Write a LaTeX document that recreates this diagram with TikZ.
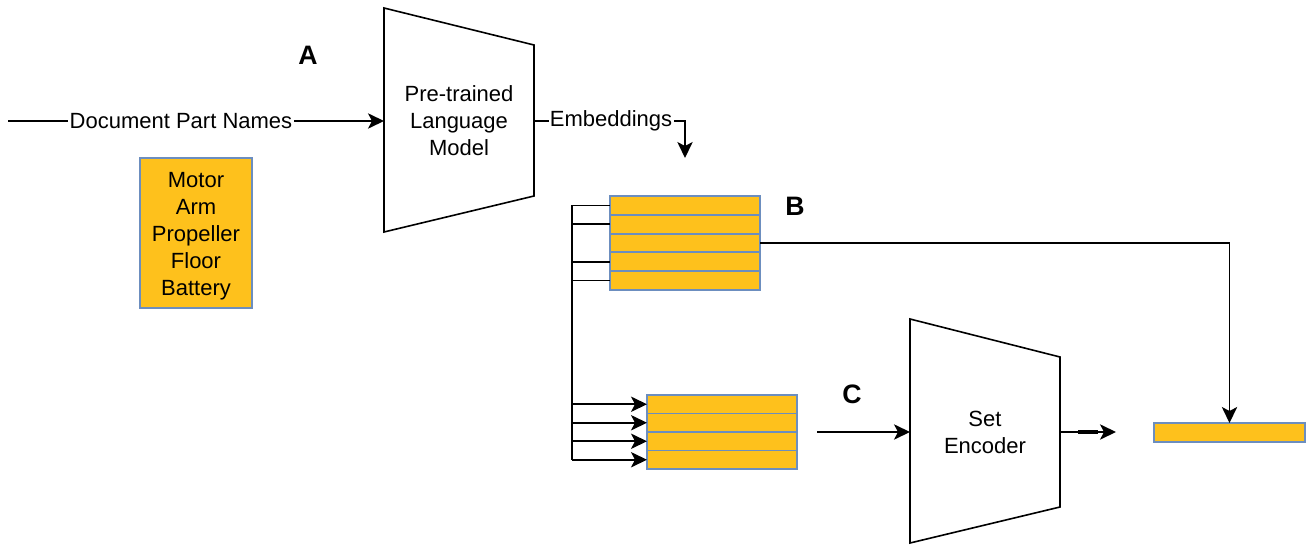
\documentclass[tikz,border=0pt]{standalone}
\usepackage{fontspec}
\setmainfont{Liberation Sans}
\usetikzlibrary{arrows.meta}
\definecolor{rowfill}{RGB}{254,193,28}
\definecolor{rowedge}{RGB}{108,142,191}
\begin{document}
\begin{tikzpicture}[x=0.75pt,y=-0.75pt,
  line/.style={line width=1.2pt, draw=black},
  arr/.style={line, -{Stealth[length=12pt,width=11.5pt,inset=3pt]}},
  row/.style={draw=rowedge, fill=rowfill, line width=1.4pt, minimum width=112.5pt, inner sep=0pt, outer sep=0pt},
  lbl/.style={font=\fontsize{16.5}{20.25}\selectfont, align=center},
  big/.style={font=\fontsize{20}{24}\selectfont\bfseries}]
\useasboundingbox (0,0) rectangle (1307,546);

% Pre-trained language model
\draw[line] (384,8) -- (534,45) -- (534,196) -- (384,232) -- cycle;
\coordinate (plmin) at (384,121);
\coordinate (plmout) at (534,121);
\node[lbl] (plm) at (459,121) {Pre-trained\\Language\\Model};

% input
\coordinate (src) at (8,121);
\draw[arr] (src) -- node[pos=0.46, lbl, fill=white, inner sep=1pt] (dpn) {Document Part Names} (plmin);

% example box
\node[draw=rowedge, fill=rowfill, line width=1.4pt, minimum width=84pt, minimum height=112.5pt] (parts) at (196,233) {};
\node[lbl] (partstxt) at (196,236) {Motor\\Arm\\Propeller\\Floor\\Battery};

% embeddings
\coordinate (embend) at (685,158);
\draw[arr] (plmout) -| node[pos=0.255, lbl, fill=white, inner sep=1pt] (emb) {Embeddings} (embend);

% B stack
\foreach \i/\y in {1/205.4,2/224.2,3/243,4/261.8,5/280.6}
  \node[row, minimum height=14.1pt] (b\i) at (685,\y) {};
% C stack
\foreach \i/\y in {1/404.25,2/422.75,3/441.25,4/459.75}
  \node[row, minimum height=13.9pt] (c\i) at (722,\y) {};

% bus
\coordinate (bustop) at (572,205.4);
\coordinate (busbot) at (572,459.75);
\draw[line] (bustop) -- (busbot);
\foreach \i in {1,2,4,5}
  \draw[line] (b\i.west) -- (b\i.west -| bustop);
\foreach \i in {1,2,3,4}
  \draw[arr] (c\i.west -| bustop) -- (c\i.west);

% final bar
\node[row, minimum width=113.25pt, minimum height=14.25pt] (fin) at (1229.5,432.5) {};
\draw[arr] (b3.east) -| (fin.north);

% Set encoder
\draw[line] (910,319) -- (1060,357) -- (1060,507) -- (910,543) -- cycle;
\coordinate (setin) at (910,432);
\coordinate (setout) at (1060,432);
\node[lbl] (set) at (985,432) {Set\\Encoder};
\coordinate (cstart) at (817,432);
\draw[arr] (cstart) -- (setin);
\coordinate (outend) at (1116,432);
\draw[arr] (setout) -- (outend);
\draw[line width=2.3pt] (1078,432) -- (1098,432);

% labels
\node[big] (la) at (308,55) {A};
\node[big] (lb) at (795,206) {B};
\node[big] (lc) at (852,394) {C};
\end{tikzpicture}
\end{document}
